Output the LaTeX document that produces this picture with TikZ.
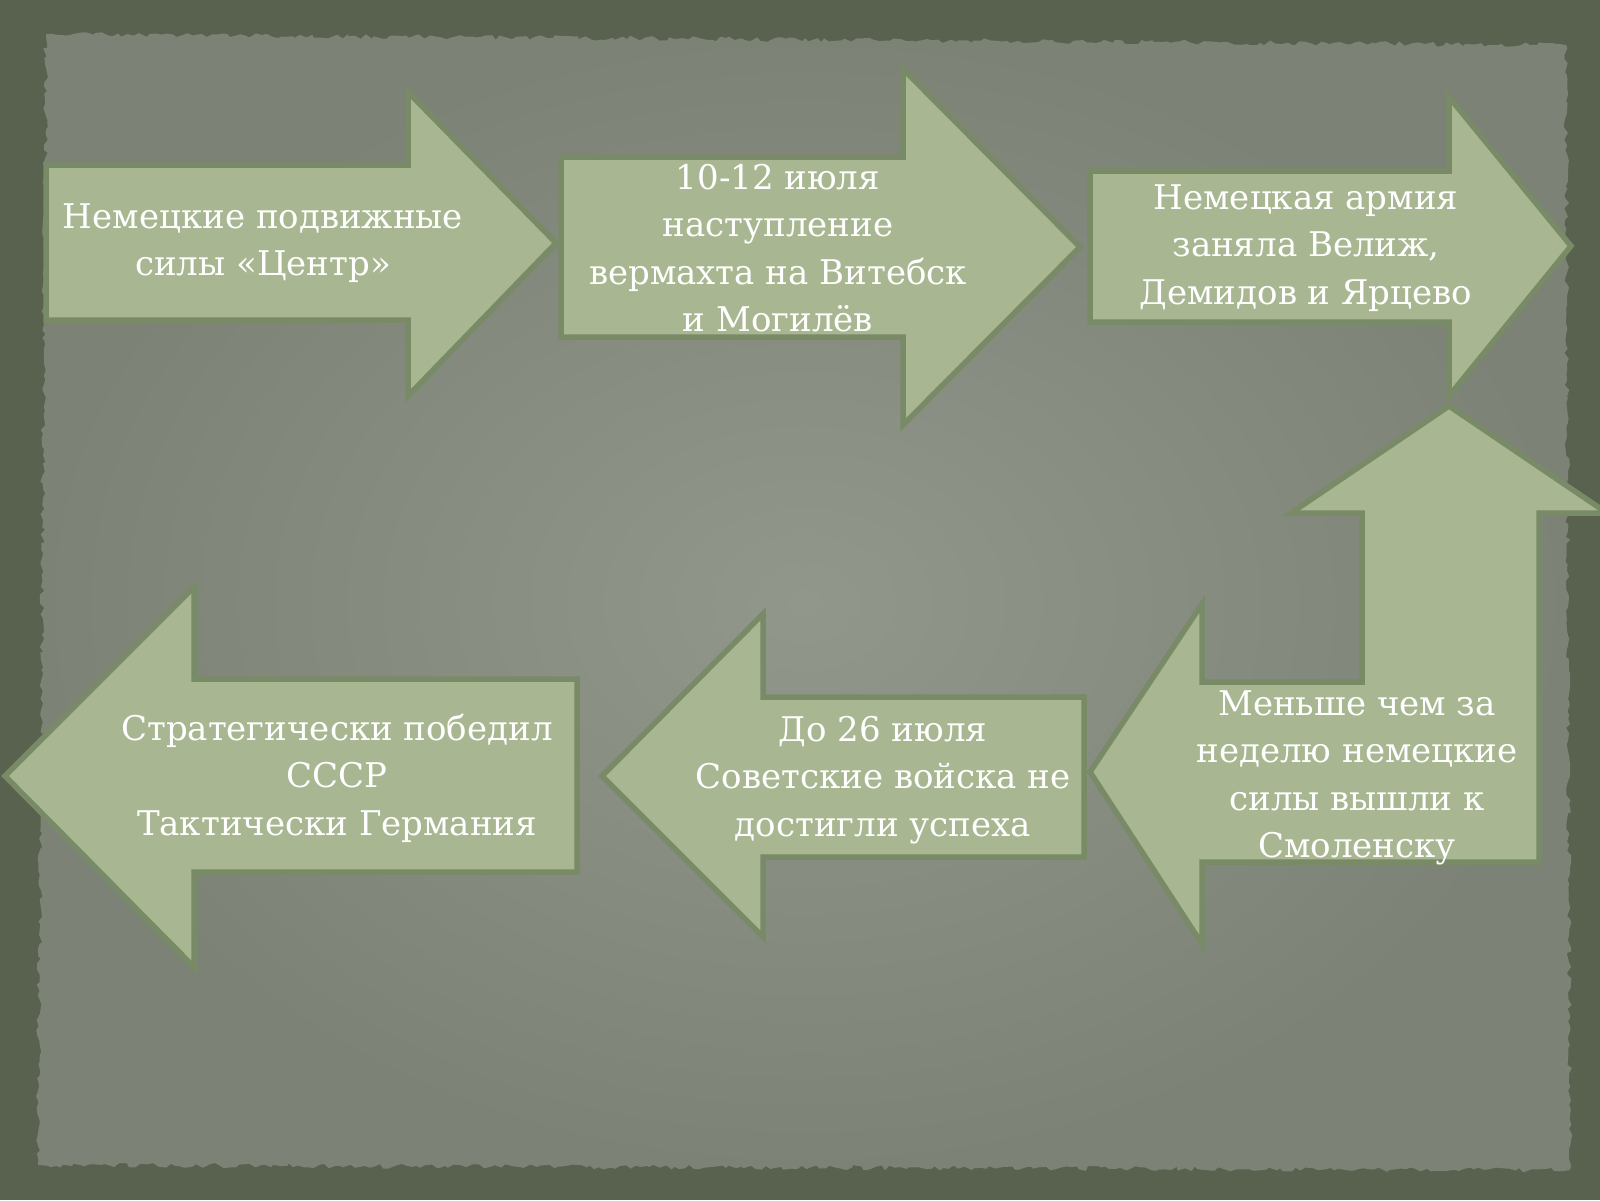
\documentclass[tikz,border=0pt]{standalone}
\usepackage{fontspec}
\setmainfont{DejaVu Serif}
\usetikzlibrary{decorations.pathmorphing}
\definecolor{framegreen}{HTML}{58624E}
\definecolor{paperdark}{HTML}{7C8276}
\definecolor{paperlight}{HTML}{92978C}
\definecolor{arrowfill}{HTML}{A8B791}
\definecolor{arrowline}{HTML}{788A66}
\tikzset{
  arrowshape/.style={fill=arrowfill, draw=arrowline, line width=5.5pt, line join=miter},
  arrowtext/.style={text=white, align=center, font=\fontsize{34}{47.5}\selectfont},
  torn/.style={decorate, decoration={random steps, segment length=5pt, amplitude=2.5pt}}
}

\begin{document}
\begin{tikzpicture}[x=1pt, y=-1pt]
      \pgfmathsetseed{11}
      \useasboundingbox (0,0) rectangle (1600,1200);
      \fill[framegreen] (0,0) rectangle (1600,1200);
      \shade[torn, inner color=paperlight, outer color=paperdark]
        (46,34) -- (1566,45) -- (1570,1170) -- (38,1165) -- cycle;
      % top row
      \draw[arrowshape] (46,165) -- (408,165) -- (408,92) -- (556,243)
        -- (408,396) -- (408,320) -- (46,320) -- cycle;
      \draw[arrowshape] (561,157) -- (903,157) -- (903,69) -- (1080,247)
        -- (903,425) -- (903,337) -- (561,337) -- cycle;
      \draw[arrowshape] (1090,171) -- (1449,171) -- (1449,97) -- (1571,246)
        -- (1449,396) -- (1449,322) -- (1090,322) -- cycle;
      % turn and bottom row
      \draw[arrowshape] (1090,772) -- (1202,604) -- (1202,682) -- (1362,682)
        -- (1362,513) -- (1291,513) -- (1449,406) -- (1607,513) -- (1539,513)
        -- (1539,862) -- (1202,862) -- (1202,944) -- cycle;
      \draw[arrowshape] (602,776) -- (763,614) -- (763,697) -- (1084,697)
        -- (1084,857) -- (763,857) -- (763,937) -- cycle;
      \draw[arrowshape] (5,776) -- (194,587) -- (194,679) -- (577,679)
        -- (577,872) -- (194,872) -- (194,967) -- cycle;
      \node[arrowtext] (centre) at (263,243) {Немецкие подвижные\\силы «Центр»};
      \node[arrowtext] (vitebsk) at (778,248) {10-12 июля\\наступление\\вермахта на Витебск\\и Могилёв};
      \node[arrowtext] (velizh) at (1306,248) {Немецкая армия\\заняла Велиж,\\Демидов и Ярцево};
      \node[arrowtext] (smolensk) at (1357,778) {Меньше чем за\\неделю немецкие\\силы вышли к\\Смоленску};
      \node[arrowtext] (july) at (883,780) {До 26 июля\\Советские войска не\\достигли успеха};
      \node[arrowtext] (result) at (337,778) {Стратегически победил\\СССР\\Тактически Германия};
    \end{tikzpicture}
\end{document}
